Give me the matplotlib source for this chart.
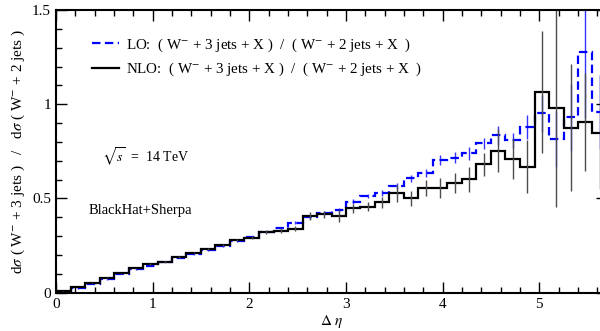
import numpy as np
import matplotlib
matplotlib.use("Agg")
import matplotlib.pyplot as plt
from matplotlib.ticker import MultipleLocator

plt.rcParams['font.family'] = ['Liberation Serif', 'DejaVu Serif']
plt.rcParams['mathtext.fontset'] = 'stix'

# 38 bins of width 0.15 in delta-eta
bin_width = 0.15
n_bins = 38

nlo = [0.007, 0.030, 0.054, 0.080, 0.103, 0.130, 0.152, 0.164, 0.190, 0.213,
       0.230, 0.251, 0.279, 0.292, 0.322, 0.330, 0.340, 0.407, 0.416, 0.407,
       0.447, 0.456, 0.479, 0.527, 0.500, 0.556, 0.553, 0.583, 0.601, 0.681,
       0.753, 0.707, 0.668, 1.066, 0.981, 0.875, 0.907, 0.848]
nlo_err = [0.002, 0.002, 0.002, 0.003, 0.003, 0.003, 0.003, 0.004, 0.004, 0.004,
           0.005, 0.005, 0.006, 0.008, 0.010, 0.012, 0.012, 0.022, 0.020, 0.030,
           0.022, 0.025, 0.027, 0.047, 0.040, 0.042, 0.053, 0.053, 0.066, 0.062,
           0.115, 0.106, 0.140, 0.325, 0.525, 0.336, 0.260, 0.300]

lo = [0.005, 0.023, 0.046, 0.071, 0.099, 0.124, 0.143, 0.164, 0.186, 0.205,
      0.226, 0.249, 0.274, 0.296, 0.323, 0.343, 0.371, 0.400, 0.421, 0.438,
      0.483, 0.513, 0.530, 0.566, 0.607, 0.636, 0.704, 0.716, 0.739, 0.792,
      0.836, 0.810, 0.880, 0.951, 0.815, 0.930, 1.278, 0.960]
lo_err = [0.002, 0.002, 0.002, 0.002, 0.002, 0.003, 0.003, 0.003, 0.003, 0.003,
          0.003, 0.004, 0.004, 0.005, 0.006, 0.007, 0.008, 0.010, 0.010, 0.012,
          0.015, 0.013, 0.015, 0.018, 0.020, 0.020, 0.025, 0.030, 0.035, 0.027,
          0.050, 0.040, 0.065, 0.100, 0.150, 0.180, 0.350, 0.200]

lo_label = r'LO:  ( W$^{-}$ + 3 jets + X )  /  ( W$^{-}$ + 2 jets + X  )'
nlo_label = r'NLO:  ( W$^{-}$ + 3 jets + X )  /  ( W$^{-}$ + 2 jets + X  )'

edges = np.arange(n_bins + 1) * bin_width
centers = edges[:-1] + bin_width / 2

fig = plt.figure(figsize=(6, 3.31), dpi=100)
# the right spine lies just outside the picture, as in the reference
ax = fig.add_axes([56 / 600, 1 - 292.7 / 331, 551 / 600, (292.7 - 10) / 331])

ax.vlines(centers, np.array(lo) - lo_err, np.array(lo) + lo_err, color='blue', lw=1, alpha=0.8)
ax.vlines(centers, np.array(nlo) - nlo_err, np.array(nlo) + nlo_err, color='0.3', lw=1)
ax.stairs(lo, edges, baseline=None, color='blue', lw=1.6, ls=(0, (3.8, 2)), label=lo_label)
ax.stairs(nlo, edges, baseline=None, color='black', lw=1.6, label=nlo_label)

ax.set_xlim(0, 5.7)
ax.set_ylim(0, 1.5)
ax.xaxis.set_major_locator(MultipleLocator(1))
ax.xaxis.set_minor_locator(MultipleLocator(0.2))
ax.yaxis.set_major_locator(MultipleLocator(0.5))
ax.yaxis.set_minor_locator(MultipleLocator(0.1))
ax.set_yticks([0, 0.5, 1, 1.5])
ax.set_yticklabels(['0', '0.5', '1', '1.5'])
ax.tick_params(which='both', direction='in', top=True, right=True, labelsize=11, width=1)
ax.tick_params(which='major', length=8)
ax.tick_params(which='minor', length=4.5)
for s in ax.spines.values():
    s.set_linewidth(1.5)

ax.set_xlabel(r'$\Delta$ $\eta$', fontsize=11, labelpad=2)
ax.set_ylabel(r'd$\sigma$ ( W$^{-}$ + 3 jets )   /   d$\sigma$ ( W$^{-}$ + 2 jets )', fontsize=11, labelpad=4)

leg = ax.legend(loc='upper left', bbox_to_anchor=(0.04, 0.955), frameon=False, fontsize=10.8,
                handlelength=1.8, handletextpad=0.5, labelspacing=0.5)

ax.text(0.083, 0.462, r'$\sqrt{s}$  =  14 TeV', transform=ax.transAxes, fontsize=10)
ax.text(0.06, 0.278, 'BlackHat+Sherpa', transform=ax.transAxes, fontsize=10.5)

fig.savefig('out.png', dpi=100)
